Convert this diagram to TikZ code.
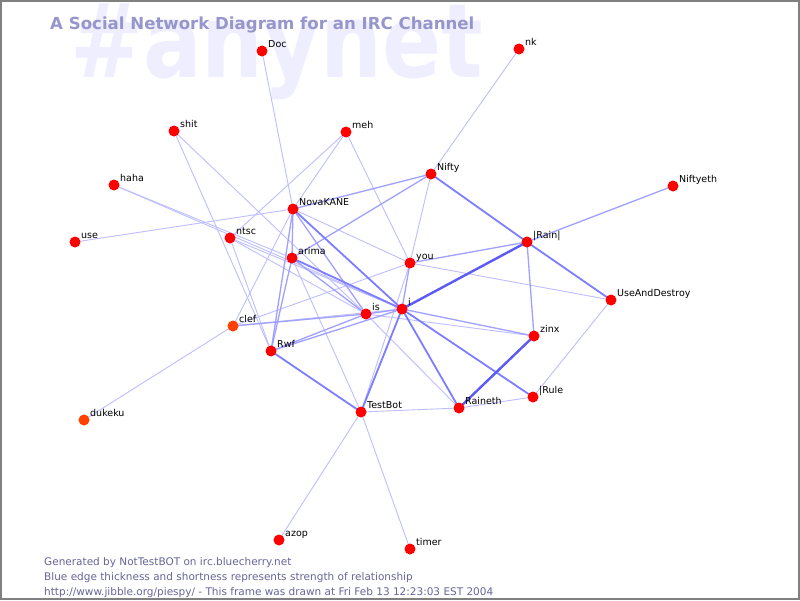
\documentclass[tikz,border=0pt]{standalone}
\usepackage{fontspec}
\setmainfont{DejaVu Sans}
\pgfdeclarelayer{bg}
\pgfsetlayers{bg,main}
\definecolor{wm}{RGB}{238,238,255}
\definecolor{ttl}{RGB}{150,150,204}
\definecolor{foot}{RGB}{102,102,153}
\definecolor{nred}{RGB}{255,0,0}
\definecolor{norg}{RGB}{255,64,0}
\definecolor{eT}{RGB}{190,190,255}
\definecolor{eM}{RGB}{160,160,255}
\definecolor{eK}{RGB}{125,125,255}
\definecolor{eX}{RGB}{90,90,245}
\definecolor{frame}{RGB}{128,128,128}
\begin{document}
\begin{tikzpicture}[x=1pt,y=-1pt,
  nd/.style={circle,fill=nred,draw=none,minimum size=11pt,inner sep=0pt},
  ndo/.style={nd,fill=norg},
  lbl/.style={anchor=base west,inner sep=0pt,font=\fontsize{9.5}{11}\selectfont,text=black},
  et/.style={draw=eT,line width=0.9pt},
  em/.style={draw=eM,line width=1.3pt},
  ek/.style={draw=eK,line width=1.8pt},
  ex/.style={draw=eX,line width=2.4pt},
  ft/.style={anchor=base west,inner sep=0pt,font=\fontsize{10.5}{12}\selectfont,text=foot}]
\useasboundingbox (0,0) rectangle (800,600);
\begin{pgfonlayer}{bg}
\fill[white] (0,0) rectangle (800,600);
\node[anchor=base west,inner sep=0pt,text=wm] (wmark) at (70,77) {\scalebox{0.87}[1.03]{\bfseries\fontsize{100}{100}\selectfont\#anynet}};
\end{pgfonlayer}
\node[anchor=base west,inner sep=0pt,font=\bfseries\fontsize{16.6}{19}\selectfont,text=ttl] (title) at (50,29.5) {A Social Network Diagram for an IRC Channel};
% nodes
\node[nd] (Doc) at (262,51) {};
\node[nd] (nk) at (519,49) {};
\node[nd] (shit) at (174,131) {};
\node[nd] (meh) at (346,132) {};
\node[nd] (Nifty) at (431,174) {};
\node[nd] (Niftyeth) at (673,186) {};
\node[nd] (haha) at (114,185) {};
\node[nd] (NovaKANE) at (293,209) {};
\node[nd] (use) at (75,242) {};
\node[nd] (ntsc) at (230,238) {};
\node[nd] (Rain) at (527,242) {};
\node[nd] (arima) at (292,258) {};
\node[nd] (you) at (410,263) {};
\node[nd] (UAD) at (611,300) {};
\node[nd] (is) at (366,314) {};
\node[nd] (i) at (402,309) {};
\node[ndo] (clef) at (233,326) {};
\node[nd] (zinx) at (534,336) {};
\node[nd] (Rwf) at (271,351) {};
\node[nd] (Rule) at (533,397) {};
\node[nd] (Raineth) at (459,408) {};
\node[nd] (TestBot) at (361,412) {};
\node[ndo] (dukeku) at (84,420) {};
\node[nd] (azop) at (279,540) {};
\node[nd] (timer) at (410,549) {};
% labels
\path (Doc) ++(6,-4) node[lbl] (Doc-l) {Doc};
\path (nk) ++(6,-4) node[lbl] (nk-l) {nk};
\path (shit) ++(6,-4) node[lbl] (shit-l) {shit};
\path (meh) ++(6,-4) node[lbl] (meh-l) {meh};
\path (Nifty) ++(6,-4) node[lbl] (Nifty-l) {Nifty};
\path (Niftyeth) ++(6,-4) node[lbl] (Niftyeth-l) {Niftyeth};
\path (haha) ++(6,-4) node[lbl] (haha-l) {haha};
\path (NovaKANE) ++(6,-4) node[lbl] (NovaKANE-l) {NovaKANE};
\path (use) ++(6,-4) node[lbl] (use-l) {use};
\path (ntsc) ++(6,-4) node[lbl] (ntsc-l) {ntsc};
\path (Rain) ++(6,-4) node[lbl] (Rain-l) {|Rain|};
\path (arima) ++(6,-4) node[lbl] (arima-l) {arima};
\path (you) ++(6,-4) node[lbl] (you-l) {you};
\path (UAD) ++(6,-4) node[lbl] (UAD-l) {UseAndDestroy};
\path (is) ++(6,-4) node[lbl] (is-l) {is};
\path (i) ++(6,-4) node[lbl] (i-l) {i};
\path (clef) ++(6,-4) node[lbl] (clef-l) {clef};
\path (zinx) ++(6,-4) node[lbl] (zinx-l) {zinx};
\path (Rwf) ++(6,-4) node[lbl] (Rwf-l) {Rwf};
\path (Rule) ++(6,-4) node[lbl] (Rule-l) {|Rule};
\path (Raineth) ++(6,-4) node[lbl] (Raineth-l) {Raineth};
\path (TestBot) ++(6,-4) node[lbl] (TestBot-l) {TestBot};
\path (dukeku) ++(6,-4) node[lbl] (dukeku-l) {dukeku};
\path (azop) ++(6,-4) node[lbl] (azop-l) {azop};
\path (timer) ++(6,-4) node[lbl] (timer-l) {timer};
% edges
\begin{pgfonlayer}{bg}
\draw[et] (Doc.center) -- (NovaKANE.center);
\draw[et] (nk.center) -- (Nifty.center);
\draw[et] (use.center) -- (NovaKANE.center);
\draw[et] (shit.center) -- (Rwf.center);
\draw[et] (shit.center) -- (is.center);
\draw[et] (haha.center) -- (arima.center);
\draw[et] (haha.center) -- (i.center);
\draw[et] (meh.center) -- (ntsc.center);
\draw[et] (meh.center) -- (NovaKANE.center);
\draw[et] (meh.center) -- (you.center);
\draw[et] (Nifty.center) -- (you.center);
\draw[et] (ntsc.center) -- (is.center);
\draw[et] (ntsc.center) -- (i.center);
\draw[et] (ntsc.center) -- (Rwf.center);
\draw[et] (NovaKANE.center) -- (clef.center);
\draw[et] (NovaKANE.center) -- (you.center);
\draw[et] (arima.center) -- (TestBot.center);
\draw[et] (you.center) -- (UAD.center);
\draw[et] (you.center) -- (TestBot.center);
\draw[et] (clef.center) -- (dukeku.center);
\draw[et] (clef.center) -- (you.center);
\draw[et] (clef.center) -- (i.center);
\draw[et] (is.center) -- (Raineth.center);
\draw[et] (is.center) -- (zinx.center);
\draw[et] (Rule.center) -- (Raineth.center);
\draw[et] (Rule.center) -- (UAD.center);
\draw[et] (TestBot.center) -- (Raineth.center);
\draw[et] (TestBot.center) -- (azop.center);
\draw[et] (TestBot.center) -- (timer.center);
\draw[em] (Niftyeth.center) -- (Rain.center);
\draw[em] (Nifty.center) -- (NovaKANE.center);
\draw[em] (Nifty.center) -- (arima.center);
\draw[em] (NovaKANE.center) -- (arima.center);
\draw[em] (NovaKANE.center) -- (is.center);
\draw[em] (NovaKANE.center) -- (Rwf.center);
\draw[em] (arima.center) -- (is.center);
\draw[em] (arima.center) -- (Rwf.center);
\draw[em] (you.center) -- (Rain.center);
\draw[em] (you.center) -- (i.center);
\draw[em] (clef.center) -- (is.center);
\draw[em] (is.center) -- (i.center);
\draw[em] (Rwf.center) -- (is.center);
\draw[em] (Rwf.center) -- (i.center);
\draw[em] (i.center) -- (zinx.center);
\draw[em] (Rain.center) -- (zinx.center);
\draw[ek] (Nifty.center) -- (Rain.center);
\draw[ek] (NovaKANE.center) -- (i.center);
\draw[ek] (arima.center) -- (i.center);
\draw[ek] (Rwf.center) -- (TestBot.center);
\draw[ek] (i.center) -- (Raineth.center);
\draw[ek] (i.center) -- (Rule.center);
\draw[ek] (i.center) -- (TestBot.center);
\draw[ek] (Rain.center) -- (UAD.center);
\draw[ex] (i.center) -- (Rain.center);
\draw[ex] (zinx.center) -- (Raineth.center);
\end{pgfonlayer}
% footer
\node[ft] (f1) at (44,565) {Generated by NotTestBOT on irc.bluecherry.net};
\node[ft] (f2) at (44,580) {Blue edge thickness and shortness represents strength of relationship};
\node[ft] (f3) at (44,595) {http://www.jibble.org/piespy/ - This frame was drawn at Fri Feb 13 12:23:03 EST 2004};
\draw[frame,line width=2pt] (1,1) rectangle (799,599);
\end{tikzpicture}
\end{document}
